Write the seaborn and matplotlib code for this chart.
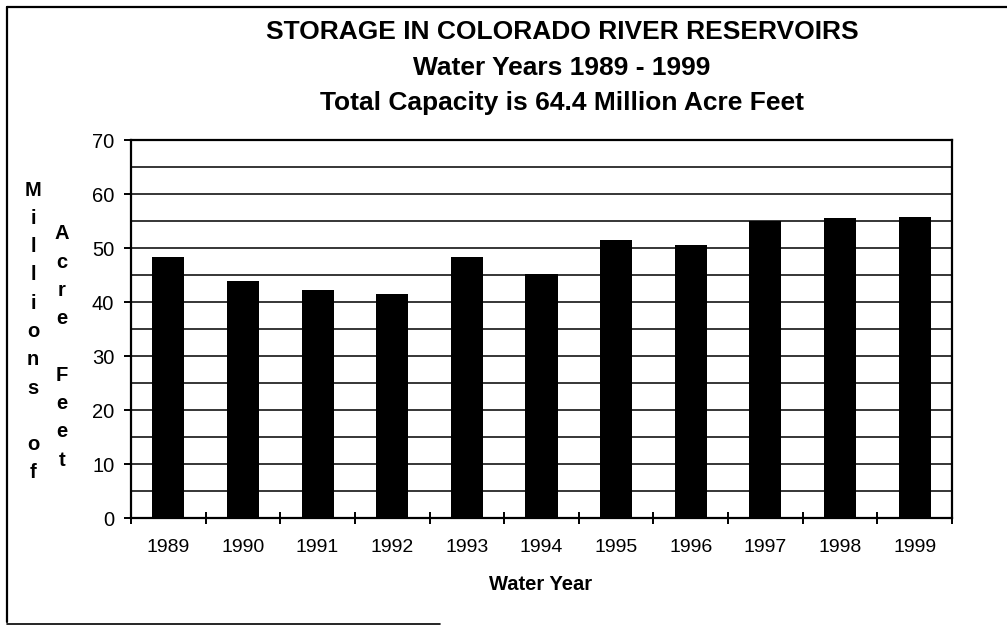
import matplotlib
matplotlib.use("Agg")
import numpy as np
import pandas as pd
import seaborn as sns
import matplotlib.pyplot as plt
from matplotlib.lines import Line2D
from matplotlib.ticker import MultipleLocator, FixedLocator

# ---- data ----
years = ["1989", "1990", "1991", "1992", "1993", "1994",
         "1995", "1996", "1997", "1998", "1999"]
storage = [48.4, 43.8, 42.3, 41.4, 48.3, 45.1, 51.4, 50.6, 55.0, 55.6, 55.7]
y_ticks = [0, 10, 20, 30, 40, 50, 60, 70]
title_lines = ["STORAGE IN COLORADO RIVER RESERVOIRS",
               "Water Years 1989 - 1999",
               "Total Capacity is 64.4 Million Acre Feet"]
x_label = "Water Year"
y_label_1 = "Millions of"
y_label_2 = "Acre Feet"

sns.set_theme(style="white")
plt.rcParams['font.family'] = ['Liberation Sans', 'DejaVu Sans']

W, H = 1007, 627
fig = plt.figure(figsize=(W / 100, H / 100), dpi=100)
fig.patch.set_facecolor("white")

L, R, T, B = 131, 952, 140, 518
ax = fig.add_axes([L / W, 1 - B / H, (R - L) / W, (B - T) / H])

df = pd.DataFrame({"year": years, "storage": storage})
sns.barplot(data=df, x="year", y="storage", color="black", saturation=1,
            width=0.43, ax=ax, zorder=3, edgecolor="black", linewidth=0)

ax.set_ylim(0, 70)
ax.set_xlim(-0.5, len(years) - 0.5)
ax.set_yticks(y_ticks)
ax.yaxis.set_minor_locator(MultipleLocator(5))
ax.set_axisbelow(True)
ax.grid(False)
ax.grid(which="both", axis="y", color="black", linewidth=1.1, zorder=0)

ax.xaxis.set_minor_locator(FixedLocator(np.arange(-0.5, len(years), 1.0)))
ax.tick_params(axis="x", which="major", length=0, pad=15, labelsize=14, colors="black")
ax.tick_params(axis="x", which="minor", direction="inout", length=9, width=1.4,
               color="black", bottom=True)
ax.tick_params(axis="y", which="major", direction="out", length=5, width=1.4,
               pad=7, labelsize=14.5, colors="black", left=True)
ax.tick_params(axis="y", which="minor", length=0)

for s in ax.spines.values():
    s.set_visible(True)
    s.set_color("black")
    s.set_linewidth(1.6)

ax.set_xlabel("")
ax.set_ylabel("")

# titles
for txt, yc in zip(title_lines, [32, 68, 103]):
    fig.text(562 / W, 1 - yc / H, txt, ha="center", va="center",
             fontsize=19, fontweight="bold", color="black")

fig.text(541 / W, 1 - 584 / H, x_label, ha="center", va="center",
         fontsize=14.5, fontweight="bold", color="black")

# stacked y labels
fig.text(33 / W, 1 - 331.5 / H, "\n".join(list(y_label_1)), ha="center", va="center",
         fontsize=14.5, fontweight="bold", linespacing=1.62, color="black")
fig.text(62 / W, 1 - 347 / H, "\n".join(list(y_label_2)), ha="center", va="center",
         fontsize=14.5, fontweight="bold", linespacing=1.62, color="black")

# figure border (top, left, part of bottom)
fig.add_artist(Line2D([7 / W, 1], [1 - 7 / H, 1 - 7 / H], transform=fig.transFigure,
                      color="black", linewidth=1.6))
fig.add_artist(Line2D([7 / W, 7 / W], [1 - 7 / H, 1 - 622 / H], transform=fig.transFigure,
                      color="black", linewidth=1.6))
fig.add_artist(Line2D([7 / W, 440 / W], [1 - 624 / H, 1 - 624 / H], transform=fig.transFigure,
                      color="black", linewidth=1.2))

fig.savefig("out.png", dpi=100, facecolor="white")
